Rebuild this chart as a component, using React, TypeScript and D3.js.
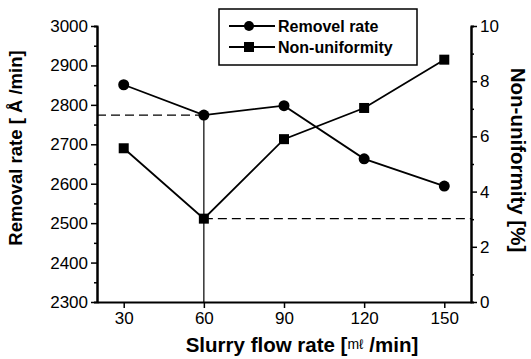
import React, { useRef, useEffect } from 'react';
import { select, scaleLinear, axisLeft, axisRight, axisBottom, line, range, format } from 'd3';

const flowRates = [30, 60, 90, 120, 150];
const removalRate = [2851, 2774, 2798, 2663, 2594];
const nonUniformity = [5.57, 3.02, 5.9, 7.03, 8.78];
const xTicks = [30, 60, 90, 120, 150];
const leftTicks = [2300, 2400, 2500, 2600, 2700, 2800, 2900, 3000];
const rightTicks = [0, 2, 4, 6, 8, 10];

const W = 531;
const H = 359;
const FONT = 'Arial, "Liberation Sans", Helvetica, sans-serif';

export default function App() {
    const svgRef: { current: SVGSVGElement | null } = useRef(null);

    useEffect(() => {
        const svg = select(svgRef.current);
        svg.selectAll('*').remove();

        const left = 97;
        const right = 471;
        const top = 26;
        const bottom = 302;

        const x = scaleLinear().domain([20, 160]).range([left, right]);
        const yL = scaleLinear().domain([2300, 3000]).range([bottom, top]);
        const yR = scaleLinear().domain([0, 10]).range([bottom, top]);

        const styleAxis = (g: any) => {
            g.selectAll('path').attr('stroke', '#000').attr('stroke-width', 2);
            g.selectAll('line').attr('stroke', '#000').attr('stroke-width', 1.5);
            g.selectAll('text')
                .attr('fill', '#000')
                .style('font-family', FONT)
                .style('font-size', '17px');
        };

        // minor ticks first
        svg.append('g')
            .attr('transform', `translate(${left},0)`)
            .call(axisLeft(yL).tickValues(range(2350, 3000, 100)).tickSize(3).tickFormat(() => '') as any)
            .call(styleAxis);
        svg.append('g')
            .attr('transform', `translate(${right},0)`)
            .call(axisRight(yR).tickValues(range(1, 10, 2)).tickSize(3).tickFormat(() => '') as any)
            .call(styleAxis);

        svg.append('g')
            .attr('transform', `translate(${left},0)`)
            .call(axisLeft(yL).tickValues(leftTicks).tickSize(6).tickSizeOuter(0).tickPadding(3).tickFormat(format('d')) as any)
            .call(styleAxis);
        svg.append('g')
            .attr('transform', `translate(${right},0)`)
            .call(axisRight(yR).tickValues(rightTicks).tickSize(6).tickSizeOuter(0).tickPadding(3).tickFormat(format('d')) as any)
            .call(styleAxis);
        svg.append('g')
            .attr('transform', `translate(0,${bottom})`)
            .call(axisBottom(x).tickValues(xTicks).tickSize(6).tickSizeOuter(0).tickPadding(4).tickFormat(format('d')) as any)
            .call(styleAxis);

        // reference lines at 60 ml/min
        const i60 = flowRates.indexOf(60);
        svg.append('line')
            .attr('x1', x(60)).attr('x2', x(60))
            .attr('y1', yL(removalRate[i60])).attr('y2', bottom)
            .attr('stroke', '#000').attr('stroke-width', 1.2);
        svg.append('line')
            .attr('x1', left).attr('x2', x(60))
            .attr('y1', yL(removalRate[i60])).attr('y2', yL(removalRate[i60]))
            .attr('stroke', '#000').attr('stroke-width', 1.2).attr('stroke-dasharray', '9,5');
        svg.append('line')
            .attr('x1', x(60)).attr('x2', right)
            .attr('y1', yR(nonUniformity[i60])).attr('y2', yR(nonUniformity[i60]))
            .attr('stroke', '#000').attr('stroke-width', 1.2).attr('stroke-dasharray', '9,5');

        // removal rate series
        const lineL: any = line<number>().x((d, i) => x(flowRates[i])).y((d) => yL(d));
        svg.append('path')
            .datum(removalRate)
            .attr('d', lineL)
            .attr('fill', 'none')
            .attr('stroke', '#000')
            .attr('stroke-width', 1.8);
        svg.selectAll('.dotL')
            .data(removalRate)
            .join('circle')
            .attr('class', 'dotL')
            .attr('cx', (d, i) => x(flowRates[i]))
            .attr('cy', (d) => yL(d))
            .attr('r', 5.5)
            .attr('fill', '#000');

        // non-uniformity series
        const lineR: any = line<number>().x((d, i) => x(flowRates[i])).y((d) => yR(d));
        svg.append('path')
            .datum(nonUniformity)
            .attr('d', lineR)
            .attr('fill', 'none')
            .attr('stroke', '#000')
            .attr('stroke-width', 1.8);
        svg.selectAll('.dotR')
            .data(nonUniformity)
            .join('rect')
            .attr('class', 'dotR')
            .attr('x', (d, i) => x(flowRates[i]) - 5)
            .attr('y', (d) => yR(d) - 5)
            .attr('width', 10)
            .attr('height', 10)
            .attr('fill', '#000');

        // legend
        const lg = svg.append('g');
        lg.append('rect')
            .attr('x', 219).attr('y', 9).attr('width', 198).attr('height', 56)
            .attr('fill', '#fff').attr('stroke', '#000').attr('stroke-width', 1.5);
        const items = [
            { label: 'Removel rate', shape: 'circle' },
            { label: 'Non-uniformity', shape: 'square' },
        ];
        items.forEach((it, k) => {
            const yy = 26 + k * 21;
            lg.append('line').attr('x1', 229).attr('x2', 275).attr('y1', yy).attr('y2', yy)
                .attr('stroke', '#000').attr('stroke-width', 1.8);
            if (it.shape === 'circle') {
                lg.append('circle').attr('cx', 249).attr('cy', yy).attr('r', 5).attr('fill', '#000');
            } else {
                lg.append('rect').attr('x', 244).attr('y', yy - 5).attr('width', 10).attr('height', 10).attr('fill', '#000');
            }
            lg.append('text').attr('x', 278).attr('y', yy + 6).text(it.label)
                .style('font-family', FONT).style('font-size', '16px').style('font-weight', 'bold');
        });

        // axis titles
        svg.append('text')
            .attr('transform', `translate(22,${(top + bottom) / 2 - 16}) rotate(-90)`)
            .attr('text-anchor', 'middle')
            .style('font-family', FONT).style('font-size', '18.5px').style('font-weight', 'bold')
            .text('Removal rate [ Å /min]');
        svg.append('text')
            .attr('transform', `translate(511,${(top + bottom) / 2 - 4}) rotate(90)`)
            .attr('text-anchor', 'middle')
            .style('font-family', FONT).style('font-size', '20.5px').style('font-weight', 'bold')
            .text('Non-uniformity [%]');
        const xt = svg.append('text')
            .attr('x', (left + right) / 2 + 18).attr('y', 352)
            .attr('text-anchor', 'middle')
            .style('font-family', FONT).style('font-size', '20.5px').style('font-weight', 'bold');
        xt.append('tspan').text('Slurry flow rate [');
        xt.append('tspan').style('font-size', '14px').style('font-weight', 'normal').attr('dy', -3).text('mℓ');
        xt.append('tspan').attr('dy', 3).text(' /min]');
    }, []);

    return (
        <svg
            ref={svgRef}
            width={W}
            height={H}
            style={{ position: 'absolute', left: 0, top: 0, background: '#fff' }}
        />
    );
}
